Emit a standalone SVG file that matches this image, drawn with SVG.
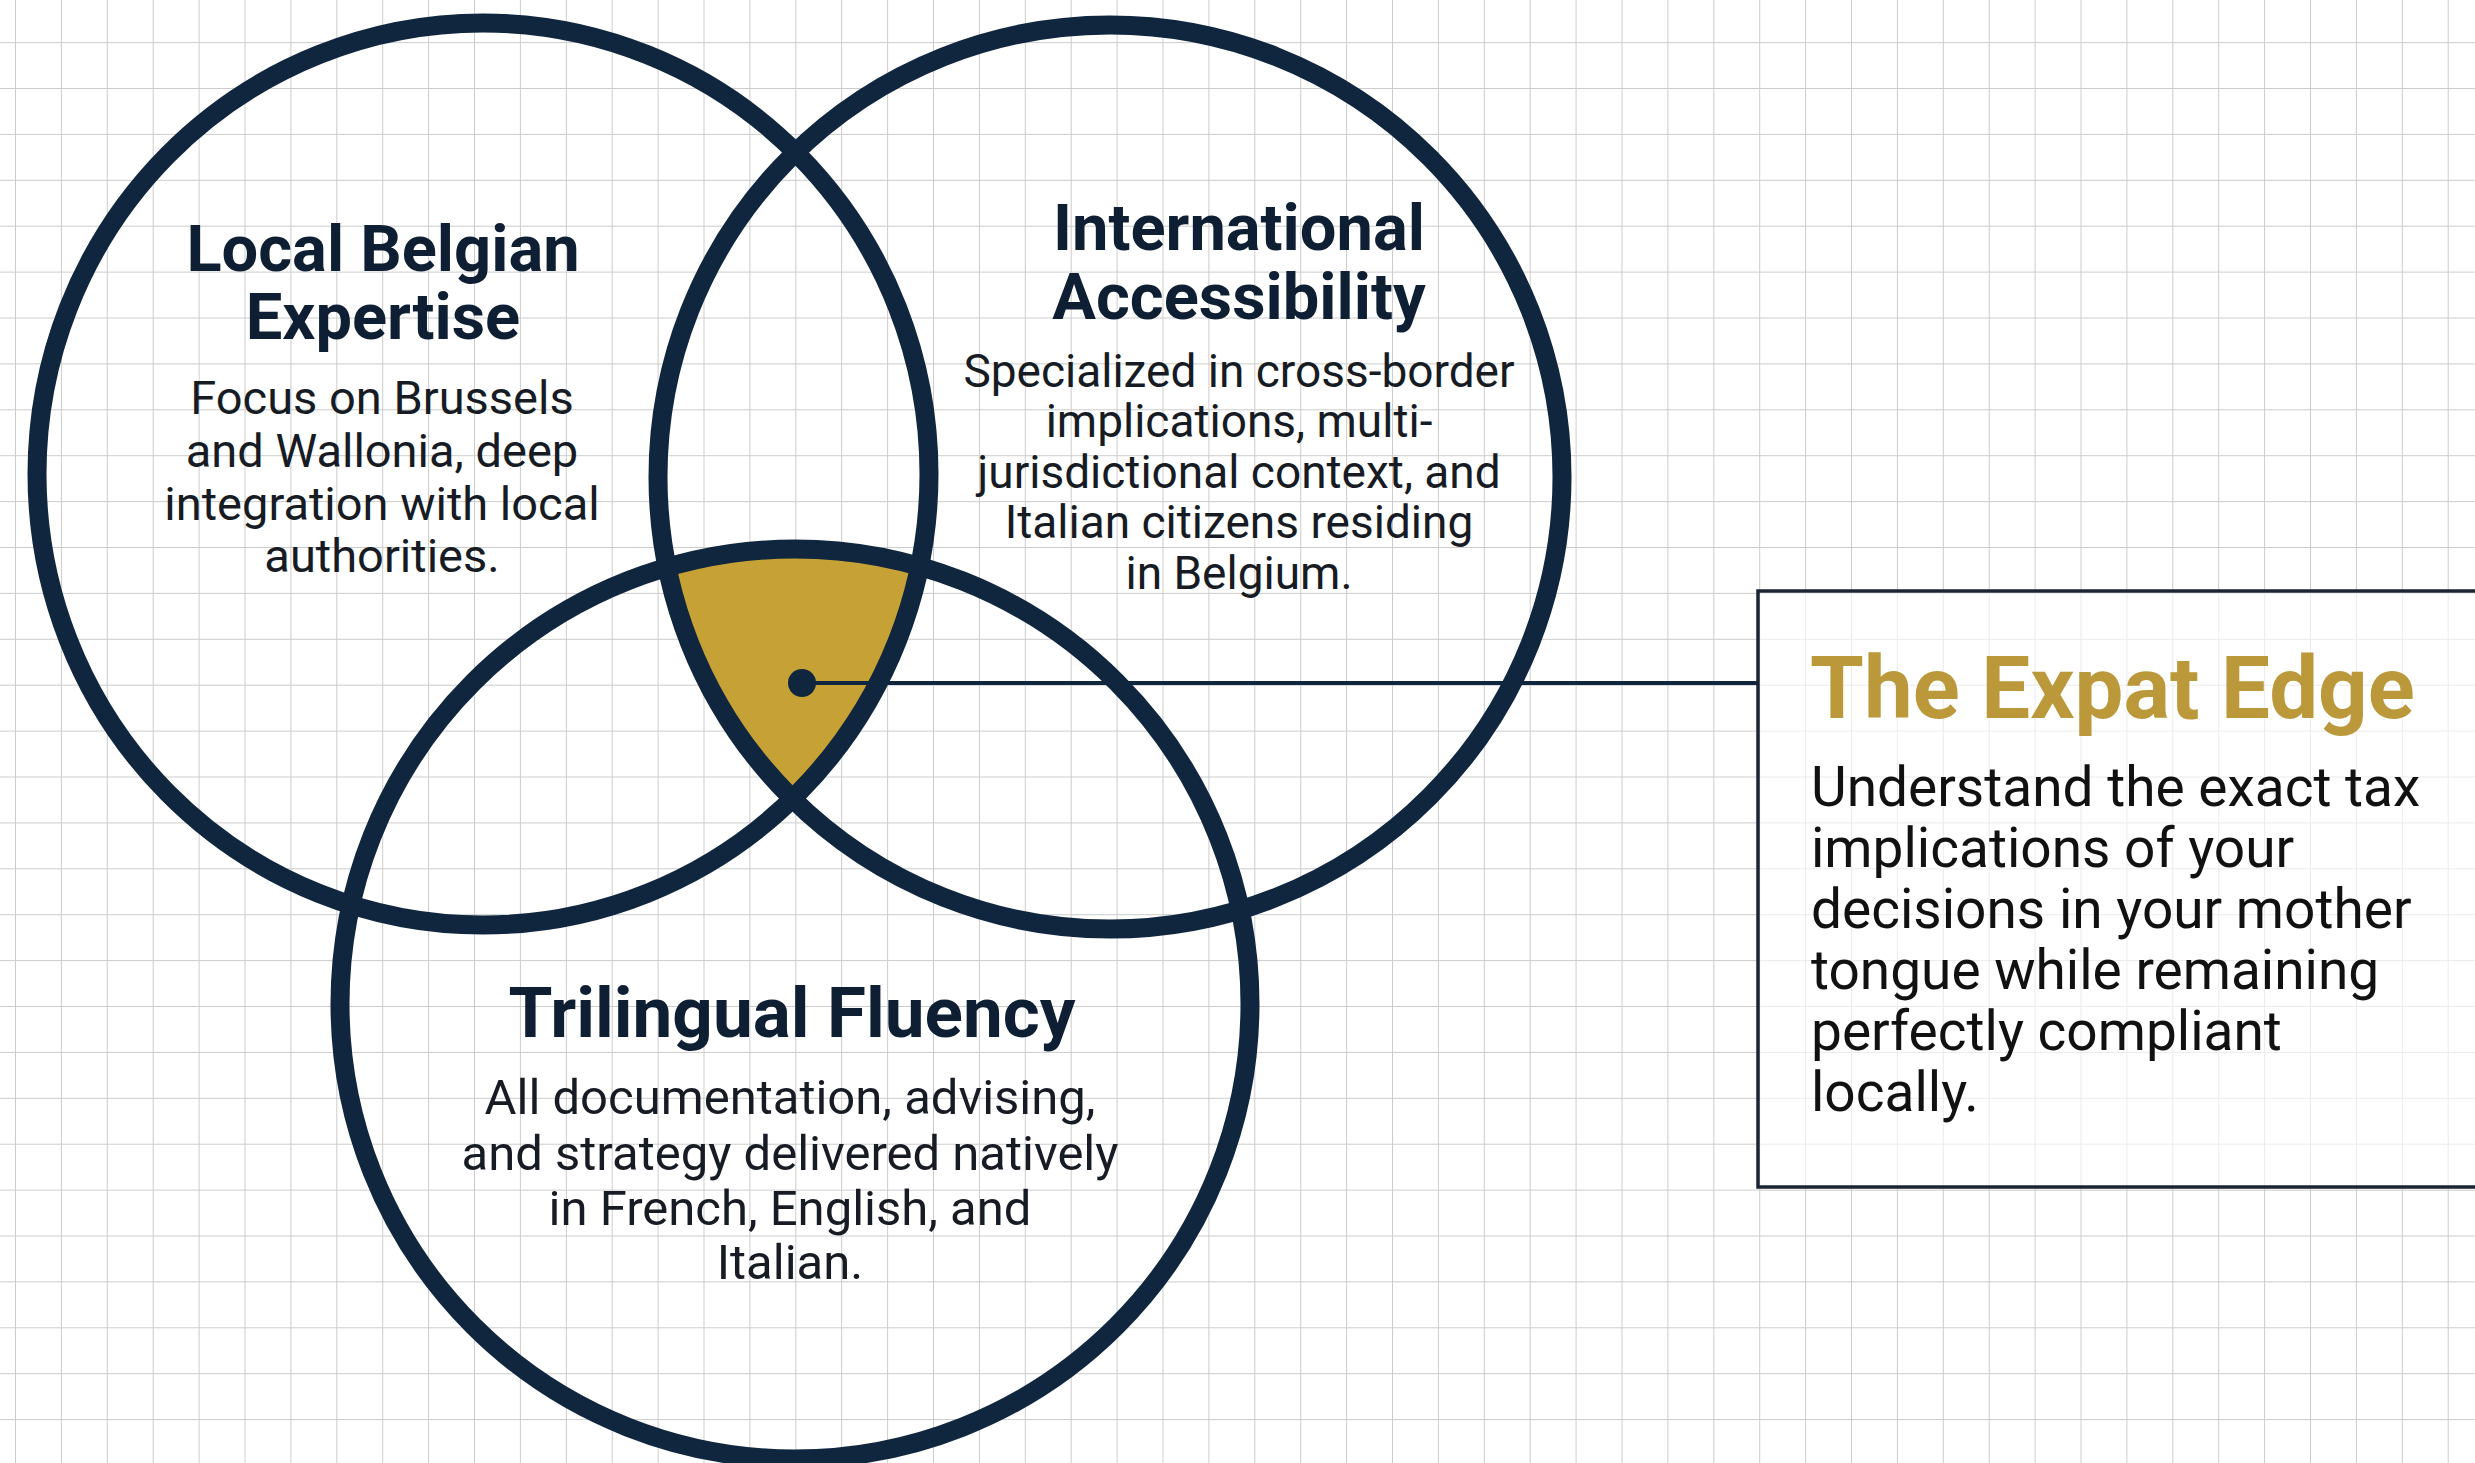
<svg xmlns="http://www.w3.org/2000/svg" width="2475" height="1463" viewBox="0 0 2475 1463">
<style>
.ring{fill:none;stroke:#10263f;stroke-width:19}
.title{font-family:Roboto,"Liberation Sans",sans-serif;font-weight:700;fill:#0f1f33;text-anchor:middle}
.body{font-family:Roboto,"Liberation Sans",sans-serif;font-weight:400;fill:#161b24;text-anchor:middle}
.gold{fill:#c6a236}
.conn{stroke:#10263f;stroke-width:4;fill:none}
.box{fill:#ffffff;fill-opacity:0.6;stroke:#1b2433;stroke-width:3.5}
.btitle{font-family:Roboto,"Liberation Sans",sans-serif;font-weight:700;fill:#bb983a}
.bbody{font-family:Roboto,"Liberation Sans",sans-serif;font-weight:400;fill:#111111}
</style>
<defs>
<pattern id="grid" x="15" y="-3.8" width="45.9" height="45.9" patternUnits="userSpaceOnUse">
<path d="M0 0H45.9M0 0V45.9" stroke="#cccccc" stroke-width="2" fill="none"/>
</pattern>
<clipPath id="clipC1"><ellipse cx="483" cy="474" rx="446" ry="451"/></clipPath>
<clipPath id="clipC2"><circle cx="1110" cy="477" r="452"/></clipPath>
</defs>
<rect width="2475" height="1463" fill="#ffffff"/>
<rect width="2475" height="1463" fill="url(#grid)"/>

<g id="overlap" clip-path="url(#clipC1)">
<g clip-path="url(#clipC2)">
<circle class="gold" cx="795" cy="1004" r="455"/>
</g>
</g>

<g id="node-local-belgian-expertise">
<ellipse class="ring" cx="483" cy="474" rx="446" ry="451"/>
<text class="title" font-size="65" x="383" y="271">Local Belgian</text>
<text class="title" font-size="65" x="383" y="339">Expertise</text>
<text class="body" font-size="47" x="382" y="414">Focus on Brussels</text>
<text class="body" font-size="47" x="382" y="467">and Wallonia, deep</text>
<text class="body" font-size="47" x="382" y="520">integration with local</text>
<text class="body" font-size="47" x="382" y="572">authorities.</text>
</g>

<g id="node-international-accessibility">
<circle class="ring" cx="1110" cy="477" r="452"/>
<text class="title" font-size="65" x="1239" y="250">International</text>
<text class="title" font-size="65" x="1239" y="319">Accessibility</text>
<text class="body" font-size="46" x="1239" y="387">Specialized in cross-border</text>
<text class="body" font-size="46" x="1239" y="437">implications, multi-</text>
<text class="body" font-size="46" x="1239" y="488">jurisdictional context, and</text>
<text class="body" font-size="46" x="1239" y="538">Italian citizens residing</text>
<text class="body" font-size="46" x="1239" y="589">in Belgium.</text>
</g>

<g id="node-trilingual-fluency">
<circle class="ring" cx="795" cy="1004" r="455"/>
<text class="title" font-size="71" x="792" y="1037">Trilingual Fluency</text>
<text class="body" font-size="49" x="790" y="1114">All documentation, advising,</text>
<text class="body" font-size="49" x="790" y="1170">and strategy delivered natively</text>
<text class="body" font-size="49" x="790" y="1225">in French, English, and</text>
<text class="body" font-size="49" x="790" y="1279">Italian.</text>
</g>

<g id="connectors">
<line class="conn" x1="802" y1="683" x2="1758" y2="683"/>
<circle cx="802" cy="683" r="14" fill="#10263f"/>
</g>

<g id="node-expat-edge">
<rect class="box" x="1758" y="591" width="740" height="596"/>
<text class="btitle" font-size="87" x="1810" y="718">The Expat Edge</text>
<text class="bbody" font-size="55" x="1811" y="806">Understand the exact tax</text>
<text class="bbody" font-size="55" x="1811" y="867">implications of your</text>
<text class="bbody" font-size="55" x="1811" y="928">decisions in your mother</text>
<text class="bbody" font-size="55" x="1811" y="989">tongue while remaining</text>
<text class="bbody" font-size="55" x="1811" y="1050">perfectly compliant</text>
<text class="bbody" font-size="55" x="1811" y="1111">locally.</text>
</g>
</svg>
